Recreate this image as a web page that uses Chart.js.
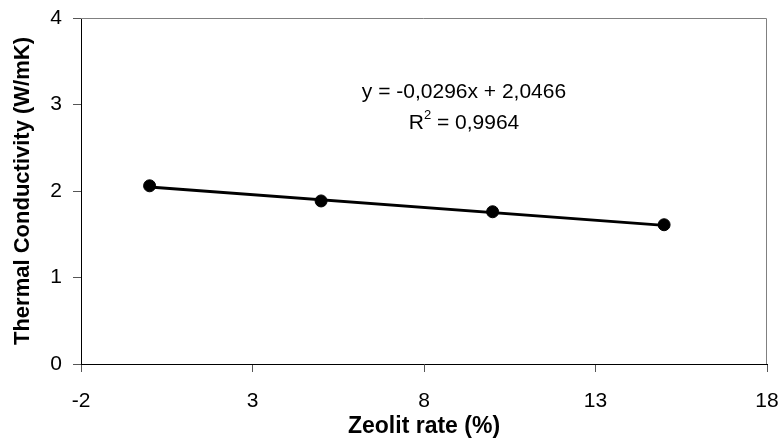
<!DOCTYPE html>
<html>
<head>
<meta charset="utf-8">
<script src="https://cdn.jsdelivr.net/npm/chart.js@4/dist/chart.umd.min.js"></script>
<style>
  html, body { margin: 0; padding: 0; background: #fff; }
  #wrap { width: 782px; height: 444px; position: relative; }
</style>
</head>
<body>
<div id="wrap"><canvas id="c" width="782" height="444"></canvas></div>
<script>
// ---- data ----
const zeolitRate = [0, 5, 10, 15];
const thermalConductivity = [2.06, 1.885, 1.76, 1.61];
const trendX = [0, 15];
const trendY = [2.0466, 1.6026];
const xTickValues = [-2, 3, 8, 13, 18];
const yTickValues = [0, 1, 2, 3, 4];
const equationText = 'y = -0,0296x + 2,0466';
const r2Parts = ['R', '2', ' = 0,9964'];
const xTitle = 'Zeolit rate (%)';
const yTitle = 'Thermal Conductivity (W/mK)';

const FONT = '"Liberation Sans", Arial, sans-serif';

const pointsData = zeolitRate.map((x, i) => ({ x: x, y: thermalConductivity[i] }));
const trendData = trendX.map((x, i) => ({ x: x, y: trendY[i] }));

const frame = {
  id: 'frame',
  afterDraw(chart) {
    const { ctx, chartArea: a } = chart;
    ctx.save();
    ctx.strokeStyle = '#808080';
    ctx.lineWidth = 1;
    ctx.beginPath();
    ctx.moveTo(a.left, a.top + 0.5);
    ctx.lineTo(a.right - 0.5, a.top + 0.5);
    ctx.lineTo(a.right - 0.5, a.bottom);
    ctx.stroke();
    // trendline equation
    ctx.fillStyle = '#000';
    ctx.textBaseline = 'alphabetic';
    const cx = 464;
    ctx.font = '21px ' + FONT;
    ctx.textAlign = 'center';
    ctx.fillText(equationText, cx, 98);
    const wR = ctx.measureText(r2Parts[0]).width;
    const wRest = ctx.measureText(r2Parts[2]).width;
    ctx.font = '13px ' + FONT;
    const wSup = ctx.measureText(r2Parts[1]).width;
    const x0 = cx - (wR + wSup + wRest) / 2;
    ctx.textAlign = 'left';
    ctx.font = '21px ' + FONT;
    ctx.fillText(r2Parts[0], x0, 129);
    ctx.font = '13px ' + FONT;
    ctx.fillText(r2Parts[1], x0 + wR, 119);
    ctx.font = '21px ' + FONT;
    ctx.fillText(r2Parts[2], x0 + wR + wSup, 129);
    ctx.restore();
  }
};

new Chart(document.getElementById('c'), {
  type: 'scatter',
  data: {
    datasets: [
      {
        label: 'trend',
        data: trendData,
        showLine: true,
        borderColor: '#000',
        borderWidth: 3,
        pointRadius: 0,
        fill: false,
        order: 2
      },
      {
        label: 'Thermal Conductivity',
        data: pointsData,
        showLine: false,
        pointRadius: 6,
        pointBackgroundColor: '#000',
        pointBorderColor: '#000',
        order: 1
      }
    ]
  },
  options: {
    responsive: false,
    animation: false,
    devicePixelRatio: 1,
    layout: { padding: { top: 18, right: 15, bottom: 0, left: 0 } },
    plugins: { legend: { display: false }, tooltip: { enabled: false } },
    scales: {
      x: {
        type: 'linear',
        min: xTickValues[0],
        max: xTickValues[xTickValues.length - 1],
        afterBuildTicks: (s) => { s.ticks = xTickValues.map(v => ({ value: v })); },
        afterFit: (s) => { s.height = 80; s.paddingLeft = 0; s.paddingRight = 0; },
        grid: { drawOnChartArea: false, drawTicks: true, tickLength: 8, color: '#555' },
        border: { display: true, color: '#000', width: 1 },
        ticks: { color: '#000', font: { family: FONT, size: 21 }, padding: 17, maxRotation: 0 },
        title: { display: true, text: xTitle, color: '#000', font: { family: FONT, size: 23, weight: 'bold' }, padding: { top: 0, bottom: 4 } }
      },
      y: {
        type: 'linear',
        min: yTickValues[0],
        max: yTickValues[yTickValues.length - 1],
        afterBuildTicks: (s) => { s.ticks = yTickValues.map(v => ({ value: v })); },
        afterFit: (s) => { s.width = 81; s.paddingTop = 0; s.paddingBottom = 0; },
        grid: { drawOnChartArea: false, drawTicks: true, tickLength: 8, color: '#555' },
        border: { display: true, color: '#000', width: 1 },
        ticks: { color: '#000', font: { family: FONT, size: 21 }, padding: 11 },
        title: { display: true, text: yTitle, color: '#000', font: { family: FONT, size: 22, weight: 'bold' }, padding: { top: 10, bottom: 0 } }
      }
    }
  },
  plugins: [frame]
});
</script>
</body>
</html>
